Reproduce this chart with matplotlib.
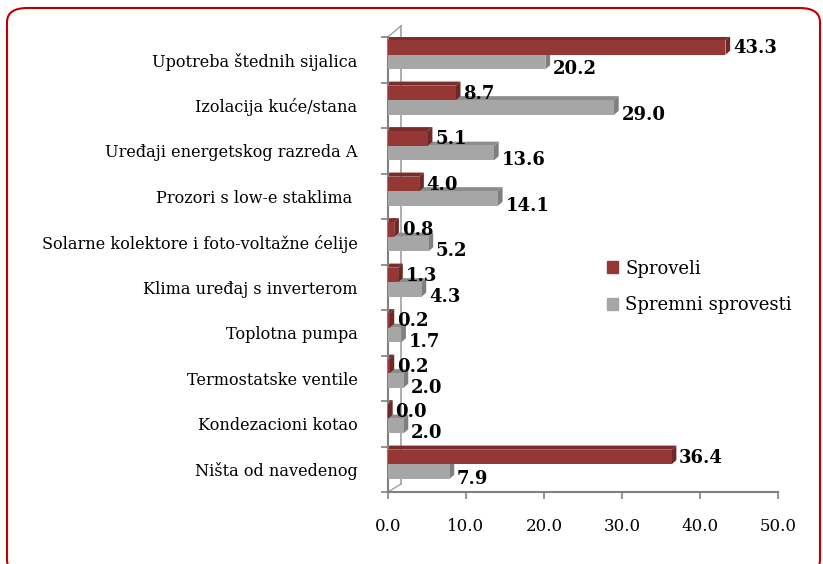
import numpy as np
import matplotlib
matplotlib.use("Agg")
import matplotlib.pyplot as plt
from matplotlib.patches import Polygon, FancyBboxPatch

# data
categories = [
    "Upotreba štednih sijalica",
    "Izolacija kuće/stana",
    "Uređaji energetskog razreda A",
    "Prozori s low-e staklima ",
    "Solarne kolektore i foto-voltažne ćelije",
    "Klima uređaj s inverterom",
    "Toplotna pumpa",
    "Termostatske ventile",
    "Kondezacioni kotao",
    "Ništa od navedenog",
]
sproveli = [43.3, 8.7, 5.1, 4.0, 0.8, 1.3, 0.2, 0.2, 0.0, 36.4]
spremni = [20.2, 29.0, 13.6, 14.1, 5.2, 4.3, 1.7, 2.0, 2.0, 7.9]
series_names = ["Sproveli", "Spremni sprovesti"]
x_ticks = [0, 10, 20, 30, 40, 50]

plt.rcParams['font.family'] = ['DejaVu Serif']

W, H = 823, 564
fig = plt.figure(figsize=(W / 100, H / 100), dpi=100)

# rounded red frame
frame = FancyBboxPatch((7 / W, -10 / H), 813 / W, (H - 8 + 10) / H,
                       boxstyle="round,pad=0,rounding_size=0.025",
                       transform=fig.transFigure, fill=False,
                       edgecolor="#C00000", linewidth=1.5)
fig.patches.append(frame)

ax = fig.add_axes([388 / W, 72 / H, (777.7 - 388) / W, (492 - 37) / H])

n = len(categories)
pos = np.arange(n)[::-1]
h = 0.32
dx, dy = 0.6, 0.09

faces = {
    "Sproveli": ("#953735", "#6E2826", "#7A2D2B"),
    "Spremni sprovesti": ("#A6A6A6", "#7F7F7F", "#8C8C8C"),
}


def draw_3d(values, offset, colors, label_shift):
    front, side, top = colors
    for c, v in zip(pos, values):
        yc = c + offset
        y0, y1 = yc - h / 2, yc + h / 2
        ax.add_patch(Polygon([(0, y1), (v, y1), (v + dx, y1 + dy), (dx * 0.3, y1 + dy)],
                             closed=True, facecolor=top, edgecolor="none", zorder=2))
        ax.add_patch(Polygon([(v, y0), (v, y1), (v + dx, y1 + dy), (v + dx, y0 + dy)],
                             closed=True, facecolor=side, edgecolor="none", zorder=3))
        ax.barh(yc, v, height=h, color=front, edgecolor="none", zorder=3)
        ax.text(v + dx + 0.35, yc + label_shift, f"{v:.1f}", ha="left", va="center",
                fontsize=13, fontweight="bold", color="black", zorder=5)


# gray series first so red top face sits over it
draw_3d(spremni, -0.05, faces["Spremni sprovesti"], -0.16)
draw_3d(sproveli, 0.27, faces["Sproveli"], -0.02)

ax.set_xlim(0, 50)
ax.set_ylim(-0.5, n - 0.5)

# back wall line of the 3d frame
ax.plot([1.7, 1.7], [-0.5 + 0.18, n - 0.5 + 0.25], color="#A0A0A0", lw=1.2,
        zorder=1, clip_on=False)
ax.plot([0, 1.7], [-0.5, -0.5 + 0.18], color="#A0A0A0", lw=1.0, zorder=1, clip_on=False)
ax.plot([0, 1.7], [n - 0.5, n - 0.5 + 0.25], color="#A0A0A0", lw=1.0, zorder=1, clip_on=False)

ax.set_xticks(x_ticks)
ax.set_xticklabels([f"{t:.1f}" for t in x_ticks], fontsize=12)
ax.set_yticks(pos)
ax.set_yticklabels(categories, fontsize=11.6)
ax.set_yticks(np.arange(n + 1) - 0.5, minor=True)
ax.tick_params(axis="y", which="major", length=0, pad=22)
ax.tick_params(axis="y", which="minor", length=5, color="#808080", width=1.2)
ax.tick_params(axis="x", length=5, color="#808080", width=1.2, pad=14)

for side in ["top", "right"]:
    ax.spines[side].set_visible(False)
for side in ["left", "bottom"]:
    ax.spines[side].set_color("#808080")
    ax.spines[side].set_linewidth(1.5)

handles = [plt.Rectangle((0, 0), 1, 1, color=faces[s][0]) for s in series_names]
fig.legend(handles, series_names, loc="center left", bbox_to_anchor=(591 / W, 1 - 287 / H),
           frameon=False, fontsize=13, handlelength=0.6, handleheight=0.6,
           handletextpad=0.4, labelspacing=1.05)

fig.savefig("out.png", dpi=100)
